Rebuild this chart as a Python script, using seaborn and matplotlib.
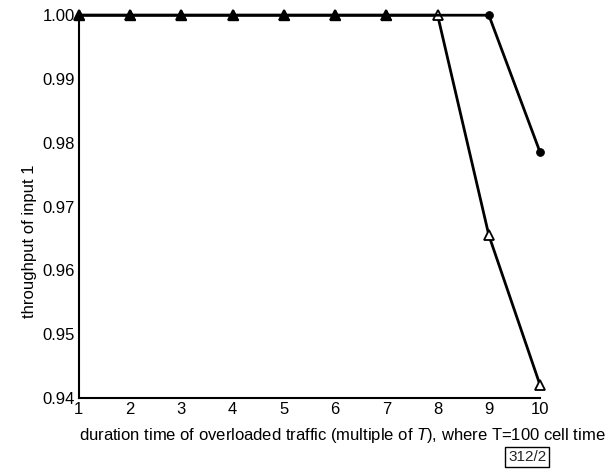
import matplotlib
matplotlib.use("Agg")
import matplotlib.pyplot as plt
import seaborn as sns
import pandas as pd

# values
duration = [1, 2, 3, 4, 5, 6, 7, 8, 9, 10]
circle_throughput = [1.0, 1.0, 1.0, 1.0, 1.0, 1.0, 1.0, 1.0, 1.0, 0.9785]
triangle_throughput = [1.0, 1.0, 1.0, 1.0, 1.0, 1.0, 1.0, 1.0, 0.9655, 0.942]
y_ticks = [0.94, 0.95, 0.96, 0.97, 0.98, 0.99, 1.00]

sns.set_theme(style="white")
plt.rcParams["font.family"] = ["Liberation Sans", "DejaVu Sans"]
plt.rcParams["mathtext.fontset"] = "custom"
plt.rcParams["mathtext.it"] = "Liberation Sans:italic"
plt.rcParams["mathtext.rm"] = "Liberation Sans"

df = pd.DataFrame({"x": duration, "circle": circle_throughput, "triangle": triangle_throughput})

fig = plt.figure(figsize=(6.11, 4.75), dpi=100)
ax = fig.add_axes([0.129, 0.162, 0.755, 0.806])

# open triangle series
sns.lineplot(data=df, x="x", y="triangle", ax=ax, color="black", linewidth=2,
             marker="^", markersize=7, markerfacecolor="white",
             markeredgecolor="black", markeredgewidth=1.3, clip_on=False)
# filled circle series (where both curves coincide the markers look like filled triangles)
same = df[(df["circle"] == df["triangle"]) & (df["x"] <= 7)]
sns.lineplot(data=df, x="x", y="circle", ax=ax, color="black", linewidth=2,
             marker="o", markersize=5.5, markevery=[8, 9],
             markeredgecolor="black", clip_on=False)
ax.plot(same["x"], same["circle"], linestyle="none", marker="^", markersize=7,
        color="black", clip_on=False, zorder=5)

ax.set_xlim(1, 10)
ax.set_ylim(0.94, 1.0)
ax.set_xticks(duration)
ax.set_yticks(y_ticks)
ax.set_yticklabels([f"{v:.2f}" for v in y_ticks])

for s in ["top", "right"]:
    ax.spines[s].set_visible(False)
for s in ["left", "bottom"]:
    ax.spines[s].set_color("black")
    ax.spines[s].set_linewidth(1.5)

ax.tick_params(axis="both", direction="in", length=6, width=1.2, color="black",
               labelsize=12, labelcolor="black")
ax.tick_params(axis="x", pad=3)
ax.tick_params(axis="y", pad=3)

ax.set_xlabel("duration time of overloaded traffic (multiple of $T$), where T=100 cell time",
              fontsize=12, color="black")
ax.xaxis.label.set_horizontalalignment("left")
ax.xaxis.set_label_coords(0.0, -0.072)
ax.set_ylabel("throughput of input 1", fontsize=12, color="black")
ax.yaxis.label.set_verticalalignment("center")
ax.yaxis.set_label_coords(-0.106, 0.41)

fig.text(0.863, 0.038, "312/2", fontsize=11, ha="center", va="center",
         bbox=dict(boxstyle="square,pad=0.2", facecolor="white", edgecolor="black", linewidth=1))

fig.savefig("out.png", dpi=100)
